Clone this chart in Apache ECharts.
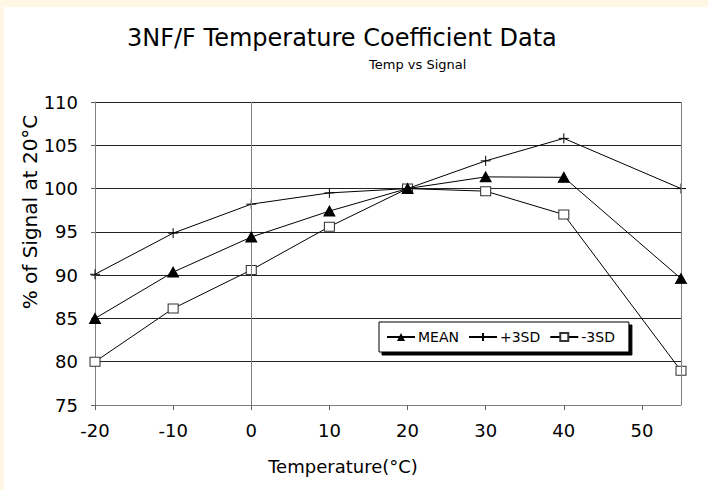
<!DOCTYPE html>
<html>
<head>
<meta charset="utf-8">
<script src="https://cdn.jsdelivr.net/npm/echarts@6/dist/echarts.min.js"></script>
<style>
html,body{margin:0;padding:0;background:#FFF7E4;width:708px;height:490px;overflow:hidden;}
#chart{position:absolute;left:4px;top:7px;width:704px;height:483px;background:#fff;}
</style>
</head>
<body>
<div id="chart"></div>
<script>
const temps = [-20, -10, 0, 10, 20, 30, 40, 55];
const meanVals = [85.0, 90.35, 94.4, 97.4, 100.0, 101.35, 101.3, 89.6];
const plus3sd = [90.1, 94.85, 98.2, 99.5, 100.0, 103.2, 105.8, 100.0];
const minus3sd = [80.0, 86.15, 90.6, 95.6, 100.0, 99.7, 97.0, 78.95];
const xTicks = [-20, -10, 0, 10, 20, 30, 40, 50];
const yTicks = [75, 80, 85, 90, 95, 100, 105, 110];

const FONT = 'DejaVu Sans';
const pair = arr => temps.map((t, i) => [t, arr[i]]);

const chart = echarts.init(document.getElementById('chart'), null, {renderer: 'svg'});
chart.setOption({
  animation: false,
  backgroundColor: '#fff',
  textStyle: {fontFamily: FONT},
  title: [
    {text: '3NF/F Temperature Coefficient Data', left: 118, top: 14,
     textStyle: {fontFamily: FONT, fontSize: 24, fontWeight: 'normal', color: '#000'}},
    {text: 'Temp vs Signal', left: 360, top: 46,
     textStyle: {fontFamily: FONT, fontSize: 13, fontWeight: 'normal', color: '#000'}}
  ],
  grid: {left: 91, right: 27, top: 95, bottom: 85, containLabel: false},
  legend: {
    left: 375, top: 315,
    padding: [8, 14, 8, 7],
    itemGap: 9, itemWidth: 28, itemHeight: 10,
    backgroundColor: '#fff', borderColor: '#000', borderWidth: 1,
    shadowColor: '#000', shadowBlur: 0, shadowOffsetX: 3, shadowOffsetY: 3,
    textStyle: {fontFamily: FONT, fontSize: 14, color: '#000', padding: [0, 0, 0, -2]},
    data: ['MEAN', '+3SD', '-3SD']
  },
  xAxis: {
    type: 'value', min: -20, max: 55, interval: 10,
    axisLine: {show: true, onZero: false, lineStyle: {color: '#808080', width: 1}},
    axisTick: {show: true, length: 5, lineStyle: {color: '#606060'}},
    axisLabel: {fontFamily: FONT, fontSize: 18, color: '#000', margin: 16,
      showMaxLabel: false,
      formatter: v => (xTicks.indexOf(v) >= 0 ? String(v) : '')},
    splitLine: {show: false}
  },
  yAxis: {
    type: 'value', min: 75, max: 110, interval: 5,
    axisLine: {show: true, onZero: false, lineStyle: {color: '#808080', width: 1}},
    axisTick: {show: true, length: 4, lineStyle: {color: '#606060'}},
    axisLabel: {fontFamily: FONT, fontSize: 18, color: '#000', margin: 17,
      formatter: v => (yTicks.indexOf(v) >= 0 ? String(v) : '')},
    splitLine: {show: true, lineStyle: {color: '#222', width: 1}}
  },
  graphic: [
    {type: 'text', x: 26, y: 205, rotation: Math.PI / 2,
     style: {text: '% of Signal at 20°C', fontFamily: FONT, fontSize: 20, fill: '#000',
       align: 'center', verticalAlign: 'middle'}},
    {type: 'text', x: 339, y: 459,
     style: {text: 'Temperature(°C)', fontFamily: FONT, fontSize: 18, fill: '#000',
       align: 'center', verticalAlign: 'middle'}}
  ],
  series: [
    {
      name: '-3SD', type: 'line', data: pair(minus3sd), clip: false,
      symbol: 'rect', symbolSize: [10, 9], showAllSymbol: true,
      lineStyle: {color: '#000', width: 1},
      itemStyle: {color: '#fff', borderColor: '#333', borderWidth: 1},
      z: 3,
      markLine: {
        silent: true, symbol: 'none', label: {show: false},
        lineStyle: {color: '#808080', width: 1, type: 'solid'},
        data: [{xAxis: 0}, {xAxis: 55}]
      }
    },
    {
      name: '+3SD', type: 'line', data: pair(plus3sd), clip: false,
      symbol: 'path://M0,5 L10,5 M5,0 L5,10', symbolSize: 10, showAllSymbol: true,
      lineStyle: {color: '#000', width: 1},
      itemStyle: {color: 'none', borderColor: '#000', borderWidth: 1},
      z: 4
    },
    {
      name: 'MEAN', type: 'line', data: pair(meanVals), clip: false,
      symbol: 'triangle', symbolSize: [11, 10], showAllSymbol: true,
      lineStyle: {color: '#000', width: 1},
      itemStyle: {color: '#000', borderColor: '#000'},
      z: 5
    }
  ]
});
</script>
</body>
</html>
